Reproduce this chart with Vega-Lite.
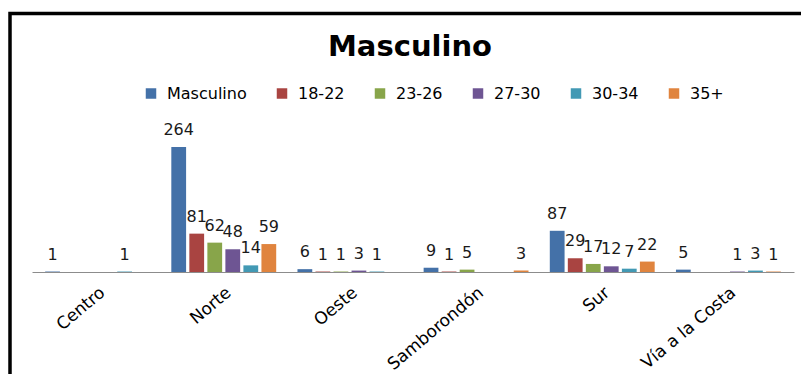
{
  "$schema": "https://vega.github.io/schema/vega-lite/v6.json",
  "autosize": {"type": "none"},
  "padding": {"left": 10, "top": 13.5, "right": -9, "bottom": -19.5},
  "width": 800,
  "height": 380,
  "background": "white",
  "config": {
    "view": {"stroke": "black", "strokeWidth": 3.5},
    "font": "DejaVu Sans"
  },
  "title": {
    "text": "Masculino",
    "font": "DejaVu Sans",
    "fontSize": 29,
    "fontWeight": "bold",
    "color": "black",
    "anchor": "middle",
    "offset": -48
  },
  "data": {
    "values": [
      {"zona": "Centro", "serie": "Masculino", "valor": 1},
      {"zona": "Centro", "serie": "30-34", "valor": 1},
      {"zona": "Norte", "serie": "Masculino", "valor": 264},
      {"zona": "Norte", "serie": "18-22", "valor": 81},
      {"zona": "Norte", "serie": "23-26", "valor": 62},
      {"zona": "Norte", "serie": "27-30", "valor": 48},
      {"zona": "Norte", "serie": "30-34", "valor": 14},
      {"zona": "Norte", "serie": "35+", "valor": 59},
      {"zona": "Oeste", "serie": "Masculino", "valor": 6},
      {"zona": "Oeste", "serie": "18-22", "valor": 1},
      {"zona": "Oeste", "serie": "23-26", "valor": 1},
      {"zona": "Oeste", "serie": "27-30", "valor": 3},
      {"zona": "Oeste", "serie": "30-34", "valor": 1},
      {"zona": "Samborondón", "serie": "Masculino", "valor": 9},
      {"zona": "Samborondón", "serie": "18-22", "valor": 1},
      {"zona": "Samborondón", "serie": "23-26", "valor": 5},
      {"zona": "Samborondón", "serie": "35+", "valor": 3},
      {"zona": "Sur", "serie": "Masculino", "valor": 87},
      {"zona": "Sur", "serie": "18-22", "valor": 29},
      {"zona": "Sur", "serie": "23-26", "valor": 17},
      {"zona": "Sur", "serie": "27-30", "valor": 12},
      {"zona": "Sur", "serie": "30-34", "valor": 7},
      {"zona": "Sur", "serie": "35+", "valor": 22},
      {"zona": "Vía a la Costa", "serie": "Masculino", "valor": 5},
      {"zona": "Vía a la Costa", "serie": "27-30", "valor": 1},
      {"zona": "Vía a la Costa", "serie": "30-34", "valor": 3},
      {"zona": "Vía a la Costa", "serie": "35+", "valor": 1}
    ]
  },
  "encoding": {
    "x": {
      "field": "zona",
      "type": "nominal",
      "sort": ["Centro", "Norte", "Oeste", "Samborondón", "Sur", "Vía a la Costa"],
      "scale": {"range": [22, 784], "paddingInner": 0, "paddingOuter": 0.02},
      "axis": {
        "title": null,
        "labelAngle": -40,
        "labelFont": "DejaVu Sans",
        "labelFontSize": 17,
        "labelColor": "black",
        "ticks": false,
        "grid": false,
        "domainColor": "#8c8c8c",
        "domainWidth": 1,
        "labelPadding": 12,
        "offset": -121.5
      }
    },
    "xOffset": {
      "field": "serie",
      "type": "nominal",
      "scale": {
        "domain": ["Masculino", "18-22", "23-26", "27-30", "30-34", "35+"],
        "paddingInner": 0.18,
        "paddingOuter": 0.59
      }
    },
    "y": {
      "field": "valor",
      "type": "quantitative",
      "scale": {"domain": [-256.6, 545.9], "nice": false},
      "axis": null
    }
  },
  "layer": [
    {
      "mark": {"type": "bar"},
      "encoding": {
        "color": {
          "field": "serie",
          "type": "nominal",
          "scale": {
            "domain": ["Masculino", "18-22", "23-26", "27-30", "30-34", "35+"],
            "range": ["#4471A8", "#A94441", "#88A54A", "#6E5593", "#4299B4", "#E0843E"]
          },
          "legend": {
            "orient": "none",
            "legendX": 133,
            "legendY": 72,
            "direction": "horizontal",
            "columns": 6,
            "title": null,
            "symbolType": "square",
            "symbolSize": 110,
            "symbolStrokeWidth": 0,
            "symbolOpacity": 1,
            "labelFont": "DejaVu Sans",
            "labelFontSize": 16,
            "labelColor": "black",
            "labelOffset": 8,
            "columnPadding": 27,
            "padding": 0
          }
        }
      }
    },
    {
      "mark": {
        "type": "text",
        "dy": -12,
        "baseline": "alphabetic",
        "fontSize": 16,
        "font": "DejaVu Sans",
        "color": "#1a1a1a"
      },
      "encoding": {"text": {"field": "valor", "type": "quantitative"}}
    }
  ]
}
